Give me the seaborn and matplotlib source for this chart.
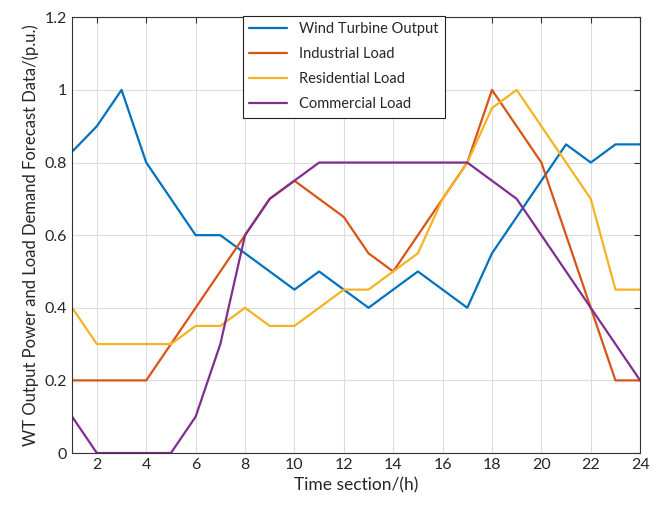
import pandas as pd
import matplotlib.pyplot as plt
import seaborn as sns

hours = list(range(1, 25))
wind = [0.83, 0.9, 1.0, 0.8, 0.7, 0.6, 0.6, 0.55, 0.5, 0.45, 0.5, 0.45,
        0.4, 0.45, 0.5, 0.45, 0.4, 0.55, 0.65, 0.75, 0.85, 0.8, 0.85, 0.85]
industrial = [0.2, 0.2, 0.2, 0.2, 0.3, 0.4, 0.5, 0.6, 0.7, 0.75, 0.7, 0.65,
              0.55, 0.5, 0.6, 0.7, 0.8, 1.0, 0.9, 0.8, 0.6, 0.4, 0.2, 0.2]
residential = [0.4, 0.3, 0.3, 0.3, 0.3, 0.35, 0.35, 0.4, 0.35, 0.35, 0.4, 0.45,
               0.45, 0.5, 0.55, 0.7, 0.8, 0.95, 1.0, 0.9, 0.8, 0.7, 0.45, 0.45]
commercial = [0.1, 0.0, 0.0, 0.0, 0.0, 0.1, 0.3, 0.6, 0.7, 0.75, 0.8, 0.8,
              0.8, 0.8, 0.8, 0.8, 0.8, 0.75, 0.7, 0.6, 0.5, 0.4, 0.3, 0.2]
series_names = ['Wind Turbine Output', 'Industrial Load', 'Residential Load', 'Commercial Load']
colors = ['#0072BD', '#D95319', '#F5B324', '#7E2F8E']

frames = []
for name, vals in zip(series_names, [wind, industrial, residential, commercial]):
    frames.append(pd.DataFrame({'hour': hours, 'value': vals, 'series': name}))
df = pd.concat(frames, ignore_index=True)

sns.set_style('white')
plt.rcParams['font.family'] = ['Lato', 'DejaVu Sans']

fig = plt.figure(figsize=(6.62, 5.09), dpi=100)
ax = fig.add_axes([0.109, 0.110, 0.858, 0.856])

sns.lineplot(data=df, x='hour', y='value', hue='series', hue_order=series_names,
             palette=colors, linewidth=1.6, ax=ax, errorbar=None)

ax.set_xlim(1, 24)
ax.set_ylim(0, 1.2)
ax.set_xticks(range(2, 25, 2))
ax.set_yticks([0, 0.2, 0.4, 0.6, 0.8, 1.0, 1.2])
ax.set_yticklabels(['0', '0.2', '0.4', '0.6', '0.8', '1', '1.2'])
ax.grid(True, color='#dddddd', linewidth=0.8)
ax.tick_params(direction='in', top=True, right=True, labelsize=11.5, length=4, color='#333333')
for s in ax.spines.values():
    s.set_color('#333333')
    s.set_linewidth(0.8)

ax.set_xlabel('Time section/(h)', fontsize=12.5)
ax.set_ylabel('WT Output Power and Load Demand Forecast Data/(p.u.)', fontsize=12)

leg = ax.legend(loc='upper left', bbox_to_anchor=(0.30, 1.004), borderaxespad=0,
                fontsize=10.5, frameon=True, fancybox=False, edgecolor='#222222',
                framealpha=1, handlelength=2.6, borderpad=0.45, labelspacing=0.75)
leg.get_frame().set_linewidth(0.8)

fig.savefig('out.png', dpi=100)
